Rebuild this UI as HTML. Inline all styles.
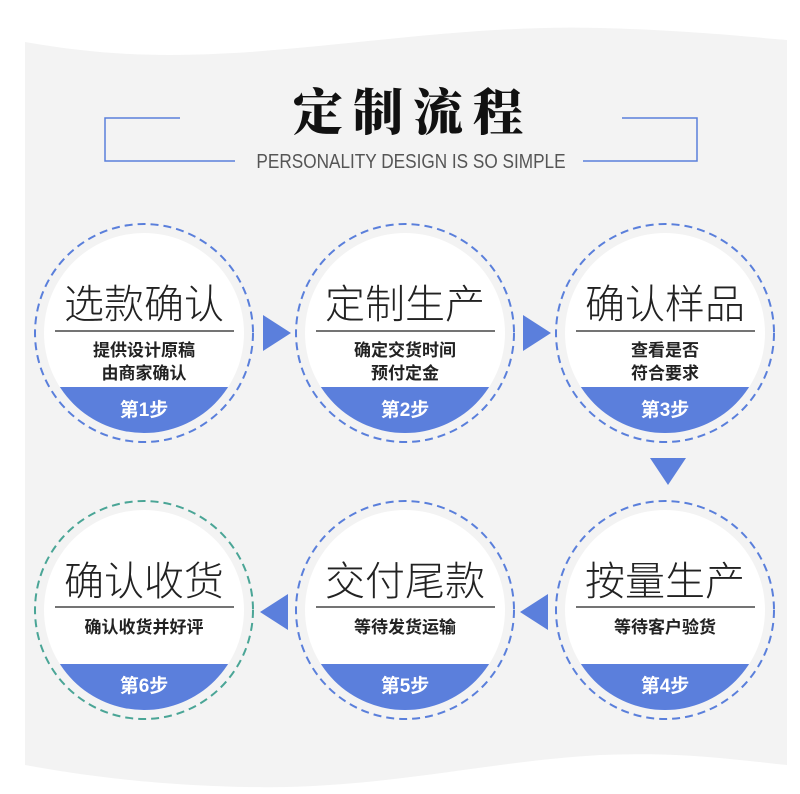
<!DOCTYPE html>
<html><head><meta charset="utf-8"><style>
html,body{margin:0;padding:0;background:#fff;}
svg{display:block}
.t{font-family:"Liberation Sans","Noto Sans CJK SC",sans-serif;text-anchor:middle}
</style></head><body>
<svg width="800" height="794" viewBox="0 0 800 794" xmlns="http://www.w3.org/2000/svg">
<path d="M25 42 C100 55 160 58 250 52 C380 42 480 25 600 28 C680 30 740 36 787 40 L787 765 C720 758 680 752 600 755 C480 762 380 790 246 787 C150 785 80 775 25 765 Z" fill="#f3f3f3"/>
<text x="413" y="130" class="t" font-size="50" font-weight="900" fill="#111" letter-spacing="10" style="font-family:'Noto Serif CJK SC',serif">定制流程</text>
<g stroke="#5a7fdb" stroke-width="1.5" fill="none">
<path d="M180 118 H105 V161 H235"/>
<path d="M622 118 H697 V161 H583"/>
</g>
<text x="411" y="168" class="t" font-size="20" fill="#555" transform="translate(411 0) scale(0.86 1) translate(-411 0)">PERSONALITY DESIGN IS SO SIMPLE</text>

<defs>
<clipPath id="c1"><circle cx="144" cy="333" r="100"/></clipPath>
<clipPath id="c2"><circle cx="405" cy="333" r="100"/></clipPath>
<clipPath id="c3"><circle cx="665" cy="333" r="100"/></clipPath>
<clipPath id="c4"><circle cx="665" cy="610" r="100"/></clipPath>
<clipPath id="c5"><circle cx="405" cy="610" r="100"/></clipPath>
<clipPath id="c6"><circle cx="144" cy="610" r="100"/></clipPath>
</defs>

<g fill="#fff">
<circle cx="144" cy="333" r="100"/><circle cx="405" cy="333" r="100"/><circle cx="665" cy="333" r="100"/>
<circle cx="665" cy="610" r="100"/><circle cx="405" cy="610" r="100"/><circle cx="144" cy="610" r="100"/>
</g>
<g fill="#5b7fdc">
<rect x="0" y="387" width="800" height="60" clip-path="url(#c1)"/>
<rect x="0" y="387" width="800" height="60" clip-path="url(#c2)"/>
<rect x="0" y="387" width="800" height="60" clip-path="url(#c3)"/>
<rect x="0" y="664" width="800" height="60" clip-path="url(#c4)"/>
<rect x="0" y="664" width="800" height="60" clip-path="url(#c5)"/>
<rect x="0" y="664" width="800" height="60" clip-path="url(#c6)"/>
</g>
<g fill="none" stroke-width="2" stroke-dasharray="8 5">
<circle cx="144" cy="333" r="109" stroke="#5a7fdb"/>
<circle cx="405" cy="333" r="109" stroke="#5a7fdb"/>
<circle cx="665" cy="333" r="109" stroke="#5a7fdb"/>
<circle cx="665" cy="610" r="109" stroke="#5a7fdb"/>
<circle cx="405" cy="610" r="109" stroke="#5a7fdb"/>
<circle cx="144" cy="610" r="109" stroke="#4aa596"/>
</g>
<g stroke="#222" stroke-width="1.3">
<line x1="55" y1="331" x2="234" y2="331"/><line x1="316" y1="331" x2="495" y2="331"/><line x1="576" y1="331" x2="755" y2="331"/>
<line x1="576" y1="607" x2="755" y2="607"/><line x1="316" y1="607" x2="495" y2="607"/><line x1="55" y1="607" x2="234" y2="607"/>
</g>
<g class="t" font-size="40" font-weight="300" fill="#222">
<text x="144" y="318" class="t">选款确认</text>
<text x="405" y="318" class="t">定制生产</text>
<text x="665" y="318" class="t">确认样品</text>
<text x="665" y="595" class="t">按量生产</text>
<text x="405" y="595" class="t">交付尾款</text>
<text x="144" y="595" class="t">确认收货</text>
</g>
<g font-size="17" font-weight="bold" fill="#222">
<text x="144" y="356" class="t">提供设计原稿</text>
<text x="144" y="379" class="t">由商家确认</text>
<text x="405" y="356" class="t">确定交货时间</text>
<text x="405" y="379" class="t">预付定金</text>
<text x="665" y="356" class="t">查看是否</text>
<text x="665" y="379" class="t">符合要求</text>
<text x="665" y="633" class="t">等待客户验货</text>
<text x="405" y="633" class="t">等待发货运输</text>
<text x="144" y="633" class="t">确认收货并好评</text>
</g>
<g font-size="19" font-weight="bold" fill="#fff">
<text x="144" y="416" class="t">第1步</text>
<text x="405" y="416" class="t">第2步</text>
<text x="665" y="416" class="t">第3步</text>
<text x="665" y="692" class="t">第4步</text>
<text x="405" y="692" class="t">第5步</text>
<text x="144" y="692" class="t">第6步</text>
</g>
<g fill="#5b7fdc">
<polygon points="263,315 291,333 263,351"/>
<polygon points="523,315 551,333 523,351"/>
<polygon points="650,458 686,458 668,485"/>
<polygon points="548,594 548,630 520,612"/>
<polygon points="288,594 288,630 260,612"/>
</g>
</svg>
</body></html>
